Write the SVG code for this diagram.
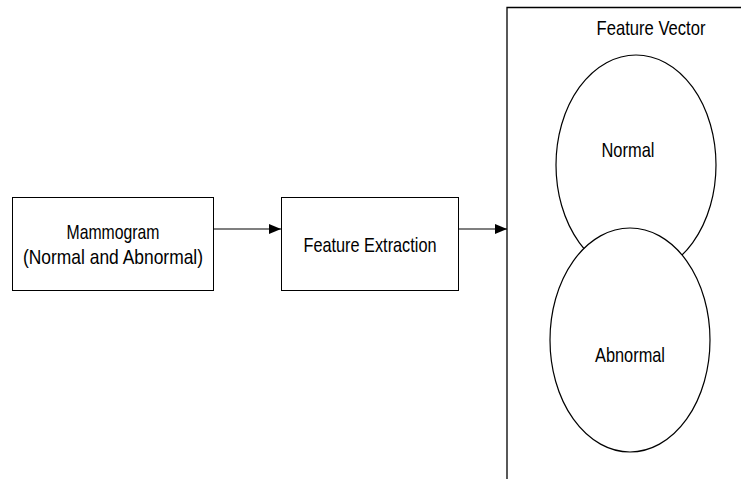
<svg xmlns="http://www.w3.org/2000/svg" width="741" height="479" viewBox="0 0 741 479">
<defs>
<style>
.box{fill:#fff;stroke:#000;stroke-width:1}
.ell{fill:#fff;stroke:#000;stroke-width:1.2}
.lbl{font-family:"Liberation Sans",Arial,sans-serif;font-size:21px;fill:#000;text-anchor:middle}
.conn{stroke:#000;stroke-width:1.2;fill:none}
</style>
<marker id="arr" viewBox="0 0 12 10" refX="12" refY="5" markerWidth="12" markerHeight="10" markerUnits="userSpaceOnUse" orient="auto">
<path d="M0,0 L12,5 L0,10 Z" fill="#000"/>
</marker>
</defs>
<rect width="741" height="479" fill="#fff"/>
<g id="frame">
<path d="M507,479 V7.5 H741" fill="none" stroke="#000" stroke-width="1.3"/>
<text class="lbl" x="651" y="35" textLength="109" lengthAdjust="spacingAndGlyphs">Feature Vector</text>
</g>
<g id="mammogram">
<rect class="box" x="12.5" y="197.5" width="201" height="93"/>
<text class="lbl" x="113" y="239" textLength="93" lengthAdjust="spacingAndGlyphs">Mammogram</text>
<text class="lbl" x="113" y="264" textLength="180" lengthAdjust="spacingAndGlyphs">(Normal and Abnormal)</text>
</g>
<g id="feature-extraction">
<rect class="box" x="281.5" y="197.5" width="177" height="93"/>
<text class="lbl" x="370" y="252" textLength="133" lengthAdjust="spacingAndGlyphs">Feature Extraction</text>
</g>
<g id="normal">
<ellipse class="ell" cx="636" cy="165" rx="80" ry="110"/>
<text class="lbl" x="628" y="157" textLength="53" lengthAdjust="spacingAndGlyphs">Normal</text>
</g>
<g id="abnormal">
<ellipse class="ell" cx="630" cy="340" rx="80" ry="112"/>
<text class="lbl" x="630" y="362" textLength="70" lengthAdjust="spacingAndGlyphs">Abnormal</text>
</g>
<g id="connectors">
<line class="conn" x1="213" y1="229" x2="281" y2="229" marker-end="url(#arr)"/>
<line class="conn" x1="458" y1="229" x2="507" y2="229" marker-end="url(#arr)"/>
</g>
</svg>
